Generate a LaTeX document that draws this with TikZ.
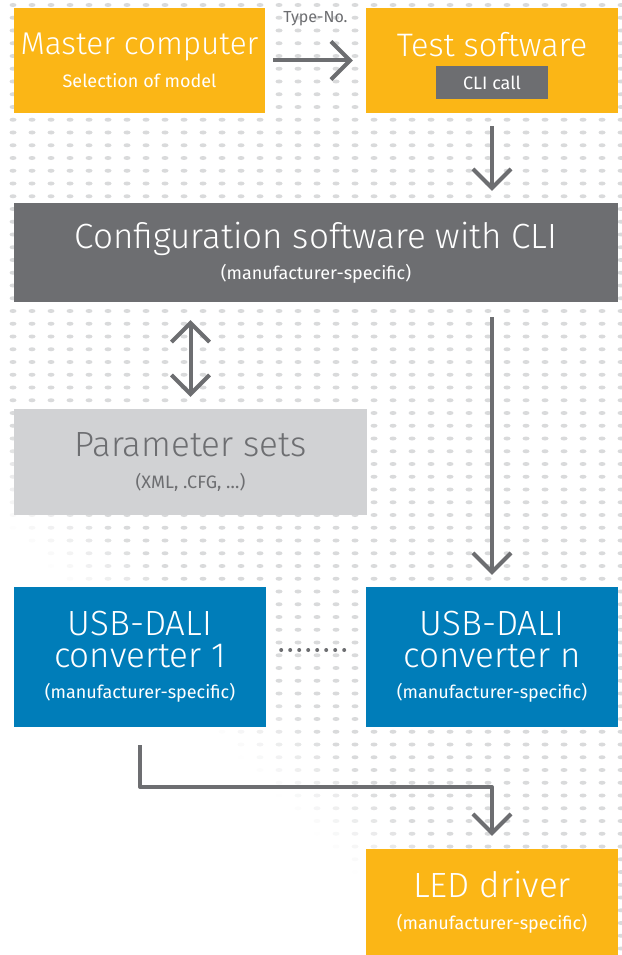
\documentclass[tikz,border=0pt]{standalone}
\usepackage{fontspec}
\setmainfont{Fira Sans}[UprightFont=* Light]
\newfontfamily\regfont{Fira Sans}
\usetikzlibrary{arrows.meta}
\definecolor{ledyellow}{HTML}{FBB616}
\definecolor{cligray}{HTML}{6D6E71}
\definecolor{paramgray}{HTML}{D1D2D4}
\definecolor{usbblue}{HTML}{007DB9}
\definecolor{dotgray}{HTML}{D9DADB}
\newcommand{\tsize}{\fontsize{35}{31.5}\selectfont}
\newcommand{\ssize}{\regfont\fontsize{18}{31.5}\selectfont}

\begin{document}
\begin{tikzpicture}[x=1pt,y=-1pt,
box/.style={rectangle,inner sep=0pt,align=center,text=white,font=\ssize,minimum width=252pt},
flow/.style={draw=cligray,line width=4pt,-{Straight Barb[length=19pt,width=38pt]}}]
\useasboundingbox (0,0) rectangle (621,955);
% background dots
\foreach \i in {0,...,32}
 \foreach \j in {0,...,74}{
  \pgfmathsetmacro{\dx}{13+19*\i}
  \pgfmathsetmacro{\dy}{5+12.75*\j}
  \pgfmathtruncatemacro{\p}{max(0,min(100,(\dx-\dy+520)/1.1))}
  \fill[dotgray!\p!white] (\dx,\dy) ellipse (3.5 and 2);
 }

\node[box,fill=ledyellow,minimum width=251pt,minimum height=105pt] (master) at (139.5,60.5)
  {{\rmfamily\fontsize{31.5}{31.5}\selectfont Master computer}\\[1pt]Selection of model};
\node[box,fill=ledyellow,minimum height=105pt,text height=25pt,text depth=32pt] (test) at (492,60.5)
  {\rmfamily\fontsize{32.5}{31.5}\selectfont Test software};
\node[box,fill=cligray,minimum width=112pt,minimum height=33pt] (cli) at (492,82.5) {CLI call};
\node[box,fill=cligray,minimum width=604pt,minimum height=99pt] (config) at (316,252.5)
  {{\rmfamily\tsize Configuration software with CLI}\\(manufacturer-specific)};
\node[box,fill=paramgray,text=cligray,minimum width=353pt,minimum height=106pt] (param) at (190.5,462)
  {{\rmfamily\tsize Parameter sets}\\(XML, .CFG, …)};
\node[box,fill=usbblue,minimum height=140pt] (usb1) at (140,657)
  {{\rmfamily\tsize USB-DALI}\\{\rmfamily\tsize converter 1}\\(manufacturer-specific)};
\node[box,fill=usbblue,minimum height=140pt] (usbn) at (492,657)
  {{\rmfamily\tsize USB-DALI}\\{\rmfamily\tsize converter n}\\(manufacturer-specific)};
\node[box,fill=ledyellow,minimum height=106pt] (led) at (492,902)
  {{\rmfamily\tsize LED driver}\\(manufacturer-specific)};

\draw[flow,shorten <=8pt,shorten >=13pt] (master) -- (test)
  node[midway,above=33pt,inner sep=0pt,text=cligray,font=\regfont\fontsize{16}{18}\selectfont] (typeno) {Type-No.};
\draw[flow,shorten <=13pt,shorten >=12pt] (test.south) -- (test.south |- config.north);
\draw[flow,{Straight Barb[length=19pt,width=38pt]}-{Straight Barb[length=19pt,width=38pt]},
  shorten <=18pt,shorten >=12pt] (config.south -| param.north) -- (param.north);
\draw[flow,shorten <=15pt,shorten >=12pt] (usbn.north |- config.south) -- (usbn.north);
\draw[cligray,line width=4pt,line cap=round,dash pattern=on 0pt off 9pt,shorten <=15pt,shorten >=14pt]
  ([yshift=7pt]usb1.east) -- ([yshift=7pt]usbn.west);
\coordinate (bend) at (0,787);
\draw[flow,line join=round,shorten <=18pt,shorten >=13pt] (usb1.south) -- (usb1.south |- bend) -| (led.north);
\end{tikzpicture}
\end{document}
